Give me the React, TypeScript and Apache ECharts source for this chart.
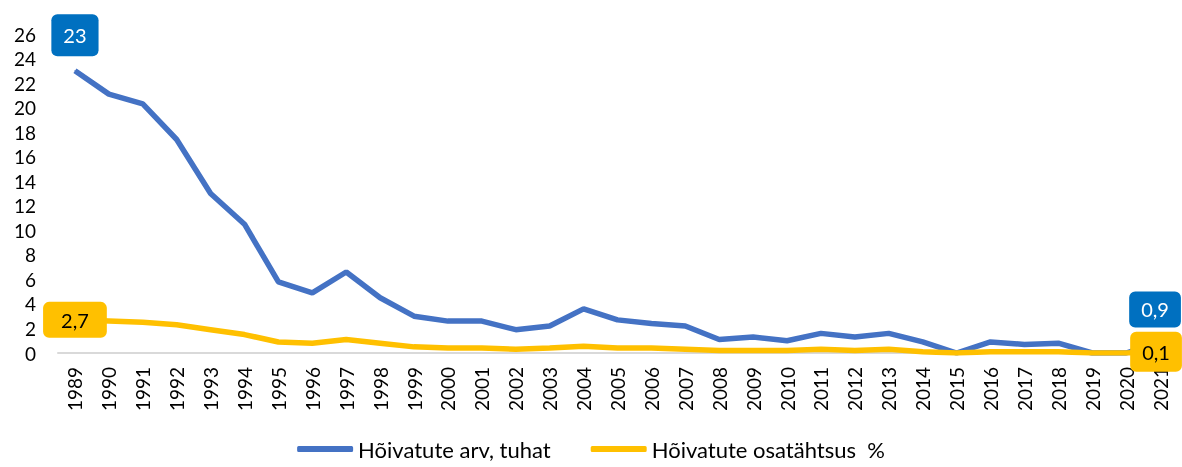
import React, { useEffect, useRef } from "react";
import * as echarts from "echarts";

const years = [
  "1989","1990","1991","1992","1993","1994","1995","1996","1997","1998","1999",
  "2000","2001","2002","2003","2004","2005","2006","2007","2008","2009","2010",
  "2011","2012","2013","2014","2015","2016","2017","2018","2019","2020","2021",
];
const employed = [
  23, 21.1, 20.3, 17.4, 13.0, 10.5, 5.8, 4.9, 6.6, 4.5, 3.0,
  2.6, 2.6, 1.9, 2.2, 3.6, 2.7, 2.4, 2.2, 1.1, 1.3, 1.0,
  1.6, 1.3, 1.6, 0.9, 0.0, 0.9, 0.7, 0.8, 0.0, 0.0, 0.9,
];
const share = [
  2.7, 2.6, 2.5, 2.3, 1.9, 1.5, 0.9, 0.8, 1.1, 0.8, 0.5,
  0.4, 0.4, 0.3, 0.4, 0.55, 0.4, 0.4, 0.3, 0.2, 0.2, 0.2,
  0.3, 0.2, 0.3, 0.1, 0.0, 0.1, 0.1, 0.1, 0.0, 0.0, 0.1,
];
const yTicks = [0, 2, 4, 6, 8, 10, 12, 14, 16, 18, 20, 22, 24, 26];
const seriesNames = ["Hõivatute arv, tuhat", "Hõivatute osatähtsus  %"];

const FONT = "Lato";
const fmt = (v: number) => String(v).replace(".", ",");

export default function App() {
  const ref = useRef<HTMLDivElement>(null);
  useEffect(() => {
    if (!ref.current) return;
    const chart = echarts.init(ref.current, null, { renderer: "svg" });
    const last = years.length - 1;
    const blueLabel = (pad: number[], offset: number[]) => ({
      show: true,
      position: "top",
      distance: 14,
      offset,
      formatter: (p: any) => fmt(p.value),
      backgroundColor: "#0070C0",
      color: "#ffffff",
      fontFamily: FONT,
      fontSize: 20,
      borderRadius: 6,
      padding: pad,
    });
    const yellowLabel = (pad: number[], offset: number[]) => ({
      show: true,
      position: "inside",
      offset,
      formatter: (p: any) => fmt(p.value),
      backgroundColor: "#FFC000",
      color: "#000000",
      fontFamily: FONT,
      fontSize: 20,
      borderRadius: 6,
      padding: pad,
    });
    const blueData = employed.map((v, i) =>
      i === 0
        ? { value: v, label: blueLabel([11, 12, 11, 12], [0, 0]) }
        : i === last
        ? { value: v, label: blueLabel([8, 12, 8, 12], [-5, 0]) }
        : v
    );
    const yellowData = share.map((v, i) =>
      i === 0
        ? { value: v, label: yellowLabel([8, 18, 8, 18], [0, 0]) }
        : i === last
        ? { value: v, label: yellowLabel([10, 12, 10, 12], [-4, 0]) }
        : v
    );
    chart.setOption({
      animation: false,
      grid: { left: 58, right: 5, top: 34, bottom: 114, containLabel: false },
      legend: {
        top: 438,
        left: "center",
        icon: "roundRect",
        itemWidth: 56,
        itemHeight: 6,
        itemGap: 40,
        padding: 0,
        textStyle: { fontFamily: FONT, fontSize: 22, lineHeight: 22, color: "#000" },
        data: seriesNames,
      },
      xAxis: {
        type: "category",
        data: years,
        boundaryGap: true,
        axisLine: { lineStyle: { color: "#d9d9d9", width: 2 } },
        axisTick: { show: false },
        axisLabel: {
          rotate: 90,
          interval: 0,
          color: "#000",
          fontFamily: FONT,
          fontSize: 19,
          margin: 14,
        },
      },
      yAxis: {
        type: "value",
        min: 0,
        max: 26,
        interval: 2,
        splitLine: { show: false },
        axisLine: { show: false },
        axisTick: { show: false },
        axisLabel: {
          color: "#000",
          fontFamily: FONT,
          fontSize: 19,
          margin: 22,
          formatter: (v: number) => (yTicks.includes(v) ? String(v) : ""),
        },
      },
      series: [
        {
          name: seriesNames[0],
          type: "line",
          data: blueData,
          symbol: "circle",
          symbolSize: 1,
          showSymbol: true,
          color: "#4472C4",
          lineStyle: { color: "#4472C4", width: 5.5 },
          itemStyle: { color: "#4472C4" },
          z: 2,
        },
        {
          name: seriesNames[1],
          type: "line",
          data: yellowData,
          symbol: "circle",
          symbolSize: 1,
          showSymbol: true,
          color: "#FFC000",
          lineStyle: { color: "#FFC000", width: 5.5 },
          itemStyle: { color: "#FFC000" },
          z: 3,
        },
      ],
    });
    return () => chart.dispose();
  }, []);
  return (
    <div
      ref={ref}
      style={{ position: "fixed", left: 0, top: 0, width: 1182, height: 467 }}
    />
  );
}
